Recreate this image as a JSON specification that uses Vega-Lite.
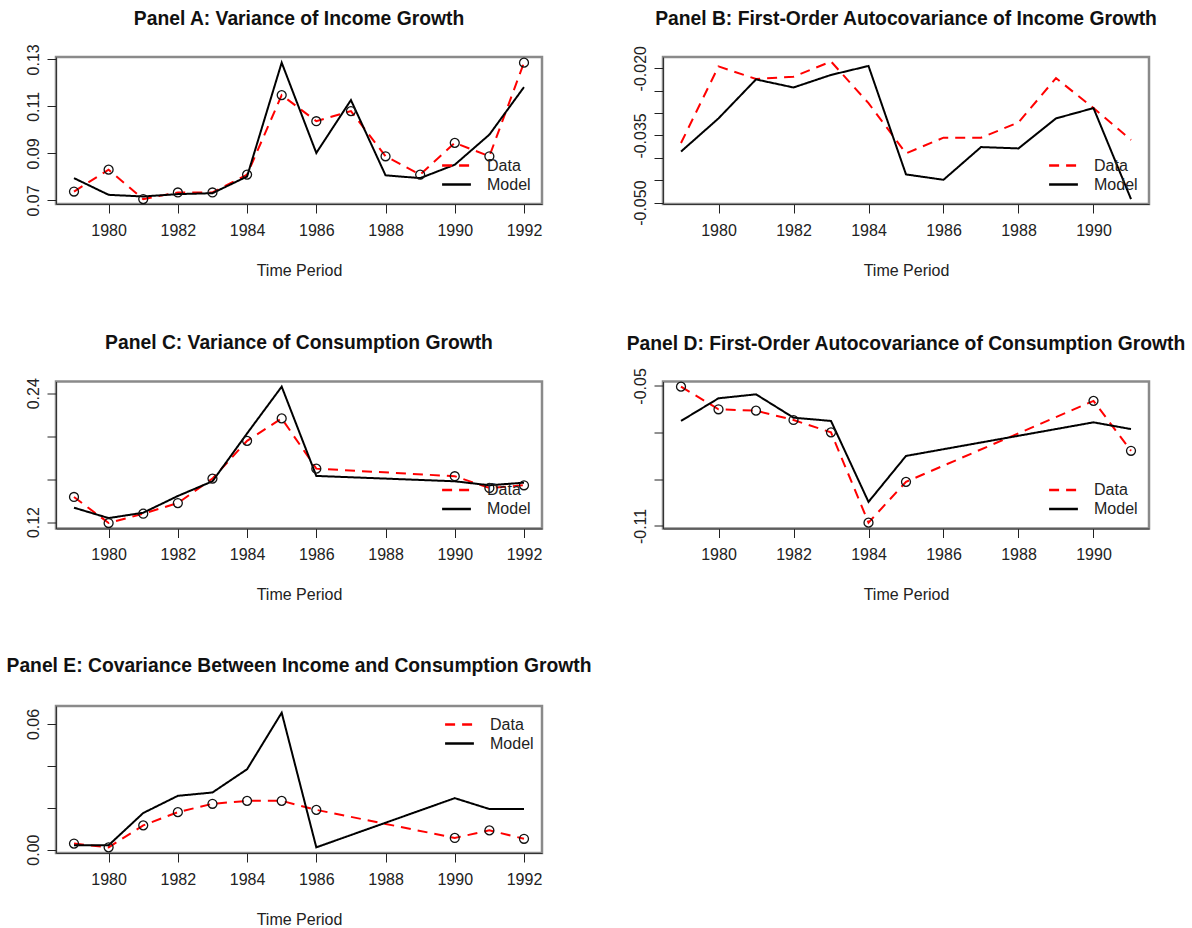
{
  "$schema": "https://vega.github.io/schema/vega-lite/v6.json",
  "background": "white",
  "padding": {"left": 5, "top": 8, "right": 0, "bottom": 0},
  "datasets": {
    "a": [
      {"year": 1979, "series": "Data", "value": 0.0738}, {"year": 1980, "series": "Data", "value": 0.0831},
      {"year": 1981, "series": "Data", "value": 0.0706}, {"year": 1982, "series": "Data", "value": 0.0734},
      {"year": 1983, "series": "Data", "value": 0.0734}, {"year": 1984, "series": "Data", "value": 0.081},
      {"year": 1985, "series": "Data", "value": 0.1148}, {"year": 1986, "series": "Data", "value": 0.1037},
      {"year": 1987, "series": "Data", "value": 0.108}, {"year": 1988, "series": "Data", "value": 0.0888},
      {"year": 1989, "series": "Data", "value": 0.081}, {"year": 1990, "series": "Data", "value": 0.0945},
      {"year": 1991, "series": "Data", "value": 0.0888}, {"year": 1992, "series": "Data", "value": 0.1286},
      {"year": 1979, "series": "Model", "value": 0.0795}, {"year": 1980, "series": "Model", "value": 0.0724},
      {"year": 1981, "series": "Model", "value": 0.0717}, {"year": 1982, "series": "Model", "value": 0.0727},
      {"year": 1983, "series": "Model", "value": 0.0731}, {"year": 1984, "series": "Model", "value": 0.0802},
      {"year": 1985, "series": "Model", "value": 0.1286}, {"year": 1986, "series": "Model", "value": 0.0902},
      {"year": 1987, "series": "Model", "value": 0.1127}, {"year": 1988, "series": "Model", "value": 0.0807},
      {"year": 1989, "series": "Model", "value": 0.0795}, {"year": 1990, "series": "Model", "value": 0.0852},
      {"year": 1991, "series": "Model", "value": 0.098}, {"year": 1992, "series": "Model", "value": 0.1182}
    ],
    "b": [
      {"year": 1979, "series": "Data", "value": -0.0367}, {"year": 1980, "series": "Data", "value": -0.0196},
      {"year": 1981, "series": "Data", "value": -0.0224}, {"year": 1982, "series": "Data", "value": -0.0219},
      {"year": 1983, "series": "Data", "value": -0.0185}, {"year": 1984, "series": "Data", "value": -0.0278},
      {"year": 1985, "series": "Data", "value": -0.039}, {"year": 1986, "series": "Data", "value": -0.0355},
      {"year": 1987, "series": "Data", "value": -0.0355}, {"year": 1988, "series": "Data", "value": -0.0321},
      {"year": 1989, "series": "Data", "value": -0.0222}, {"year": 1990, "series": "Data", "value": -0.0289},
      {"year": 1991, "series": "Data", "value": -0.036},
      {"year": 1979, "series": "Model", "value": -0.0386}, {"year": 1980, "series": "Model", "value": -0.0312},
      {"year": 1981, "series": "Model", "value": -0.0225}, {"year": 1982, "series": "Model", "value": -0.0243},
      {"year": 1983, "series": "Model", "value": -0.0215}, {"year": 1984, "series": "Model", "value": -0.0195},
      {"year": 1985, "series": "Model", "value": -0.0437}, {"year": 1986, "series": "Model", "value": -0.0449},
      {"year": 1987, "series": "Model", "value": -0.0376}, {"year": 1988, "series": "Model", "value": -0.0379},
      {"year": 1989, "series": "Model", "value": -0.0312}, {"year": 1990, "series": "Model", "value": -0.0289},
      {"year": 1991, "series": "Model", "value": -0.0492}
    ],
    "c": [
      {"year": 1979, "series": "Data", "value": 0.1434}, {"year": 1980, "series": "Data", "value": 0.1191},
      {"year": 1981, "series": "Data", "value": 0.1278}, {"year": 1982, "series": "Data", "value": 0.1377},
      {"year": 1983, "series": "Data", "value": 0.1605}, {"year": 1984, "series": "Data", "value": 0.1957},
      {"year": 1985, "series": "Data", "value": 0.2166}, {"year": 1986, "series": "Data", "value": 0.1698},
      {"year": 1990, "series": "Data", "value": 0.1627}, {"year": 1991, "series": "Data", "value": 0.1518},
      {"year": 1992, "series": "Data", "value": 0.1543},
      {"year": 1979, "series": "Model", "value": 0.1334}, {"year": 1980, "series": "Model", "value": 0.1237},
      {"year": 1981, "series": "Model", "value": 0.1287}, {"year": 1982, "series": "Model", "value": 0.1443},
      {"year": 1983, "series": "Model", "value": 0.158}, {"year": 1984, "series": "Model", "value": 0.2026},
      {"year": 1985, "series": "Model", "value": 0.2462}, {"year": 1986, "series": "Model", "value": 0.163},
      {"year": 1990, "series": "Model", "value": 0.158}, {"year": 1991, "series": "Model", "value": 0.1543},
      {"year": 1992, "series": "Model", "value": 0.1567}
    ],
    "d": [
      {"year": 1979, "series": "Data", "value": -0.0503}, {"year": 1980, "series": "Data", "value": -0.06},
      {"year": 1981, "series": "Data", "value": -0.0606}, {"year": 1982, "series": "Data", "value": -0.0646},
      {"year": 1983, "series": "Data", "value": -0.0699}, {"year": 1984, "series": "Data", "value": -0.1086},
      {"year": 1985, "series": "Data", "value": -0.0911}, {"year": 1990, "series": "Data", "value": -0.0564},
      {"year": 1991, "series": "Data", "value": -0.0778},
      {"year": 1979, "series": "Model", "value": -0.065}, {"year": 1980, "series": "Model", "value": -0.0553},
      {"year": 1981, "series": "Model", "value": -0.0536}, {"year": 1982, "series": "Model", "value": -0.0636},
      {"year": 1983, "series": "Model", "value": -0.065}, {"year": 1984, "series": "Model", "value": -0.0997},
      {"year": 1985, "series": "Model", "value": -0.08}, {"year": 1990, "series": "Model", "value": -0.0656},
      {"year": 1991, "series": "Model", "value": -0.0685}
    ],
    "e": [
      {"year": 1979, "series": "Data", "value": 0.0029}, {"year": 1980, "series": "Data", "value": 0.0011},
      {"year": 1981, "series": "Data", "value": 0.0116}, {"year": 1982, "series": "Data", "value": 0.0179},
      {"year": 1983, "series": "Data", "value": 0.0219}, {"year": 1984, "series": "Data", "value": 0.0233},
      {"year": 1985, "series": "Data", "value": 0.0233}, {"year": 1986, "series": "Data", "value": 0.019},
      {"year": 1990, "series": "Data", "value": 0.0056}, {"year": 1991, "series": "Data", "value": 0.0092},
      {"year": 1992, "series": "Data", "value": 0.0052},
      {"year": 1979, "series": "Model", "value": 0.0021}, {"year": 1980, "series": "Model", "value": 0.0021},
      {"year": 1981, "series": "Model", "value": 0.0175}, {"year": 1982, "series": "Model", "value": 0.0257},
      {"year": 1983, "series": "Model", "value": 0.0273}, {"year": 1984, "series": "Model", "value": 0.0384},
      {"year": 1985, "series": "Model", "value": 0.0654}, {"year": 1986, "series": "Model", "value": 0.0011},
      {"year": 1990, "series": "Model", "value": 0.0246}, {"year": 1991, "series": "Model", "value": 0.0194},
      {"year": 1992, "series": "Model", "value": 0.0194}
    ]
  },
  "columns": 2,
  "spacing": {"row": 177.5, "column": 121},
  "bounds": "flush",
  "resolve": {"scale": {"x": "independent", "y": "independent", "color": "independent", "strokeDash": "independent"}},
  "concat": [
    {
      "title": {"text": "Panel A: Variance of Income Growth", "dy": 14.5},
      "width": 486, "height": 147,
      "data": {"name": "a"},
      "layer": [
        {
          "mark": {"type": "line", "strokeWidth": 2, "strokeCap": "butt"},
          "encoding": {
            "x": {"field": "year", "type": "quantitative", "scale": {"domain": [1978.48, 1992.52], "nice": false, "zero": false}, "axis": {"values": [1980, 1982, 1984, 1986, 1988, 1990, 1992], "format": "d", "title": "Time Period"}},
            "y": {"field": "value", "type": "quantitative", "scale": {"domain": [0.0685, 0.131], "nice": false, "zero": false}, "axis": {"values": [0.07, 0.08, 0.09, 0.1, 0.11, 0.12, 0.13], "labelExpr": "round(datum.value*100) % 2 == 1 ? format(datum.value, '.2f') : ''"}},
            "color": {"field": "series", "type": "nominal", "scale": {"domain": ["Data", "Model"], "range": ["#ff0000", "#000000"]}, "legend": {"orient": "bottom-right"}},
            "strokeDash": {"field": "series", "type": "nominal", "scale": {"domain": ["Data", "Model"], "range": [[10, 7], [1, 0]]}, "legend": {"orient": "bottom-right"}}
          }
        },
        {
          "transform": [{"filter": "datum.series == 'Data'"}],
          "mark": {"type": "point", "shape": "circle", "filled": false, "stroke": "#111111", "strokeWidth": 1.3, "size": 80, "opacity": 1},
          "encoding": {"x": {"field": "year", "type": "quantitative"}, "y": {"field": "value", "type": "quantitative"}}
        }
      ]
    },
    {
      "title": {"text": "Panel B: First-Order Autocovariance of Income Growth", "dy": 12.5},
      "width": 486, "height": 147,
      "data": {"name": "b"},
      "layer": [
        {
          "mark": {"type": "line", "strokeWidth": 2, "strokeCap": "butt"},
          "encoding": {
            "x": {"field": "year", "type": "quantitative", "scale": {"domain": [1978.52, 1991.48], "nice": false, "zero": false}, "axis": {"values": [1980, 1982, 1984, 1986, 1988, 1990], "format": "d", "title": "Time Period"}},
            "y": {"field": "value", "type": "quantitative", "scale": {"domain": [-0.0503, -0.0175], "nice": false, "zero": false}, "axis": {"values": [-0.05, -0.045, -0.04, -0.035, -0.03, -0.025, -0.02], "labelExpr": "(round(-datum.value*1000) - 20) % 15 == 0 ? '-' + format(-datum.value, '.3f') : ''"}},
            "color": {"field": "series", "type": "nominal", "scale": {"domain": ["Data", "Model"], "range": ["#ff0000", "#000000"]}, "legend": {"orient": "bottom-right"}},
            "strokeDash": {"field": "series", "type": "nominal", "scale": {"domain": ["Data", "Model"], "range": [[10, 7], [1, 0]]}, "legend": {"orient": "bottom-right"}}
          }
        }
      ]
    },
    {
      "title": {"text": "Panel C: Variance of Consumption Growth", "dy": 5},
      "width": 486, "height": 147,
      "data": {"name": "c"},
      "layer": [
        {
          "mark": {"type": "line", "strokeWidth": 2, "strokeCap": "butt"},
          "encoding": {
            "x": {"field": "year", "type": "quantitative", "scale": {"domain": [1978.48, 1992.52], "nice": false, "zero": false}, "axis": {"values": [1980, 1982, 1984, 1986, 1988, 1990, 1992], "format": "d", "title": "Time Period"}},
            "y": {"field": "value", "type": "quantitative", "scale": {"domain": [0.114, 0.251], "nice": false, "zero": false}, "axis": {"values": [0.12, 0.14, 0.16, 0.18, 0.2, 0.22, 0.24], "labelExpr": "(round(datum.value*100) - 12) % 6 == 0 ? format(datum.value, '.2f') : ''"}},
            "color": {"field": "series", "type": "nominal", "scale": {"domain": ["Data", "Model"], "range": ["#ff0000", "#000000"]}, "legend": {"orient": "bottom-right"}},
            "strokeDash": {"field": "series", "type": "nominal", "scale": {"domain": ["Data", "Model"], "range": [[10, 7], [1, 0]]}, "legend": {"orient": "bottom-right"}}
          }
        },
        {
          "transform": [{"filter": "datum.series == 'Data'"}],
          "mark": {"type": "point", "shape": "circle", "filled": false, "stroke": "#111111", "strokeWidth": 1.3, "size": 80, "opacity": 1},
          "encoding": {"x": {"field": "year", "type": "quantitative"}, "y": {"field": "value", "type": "quantitative"}}
        }
      ]
    },
    {
      "title": {"text": "Panel D: First-Order Autocovariance of Consumption Growth", "dy": 15.5},
      "width": 486, "height": 147,
      "data": {"name": "d"},
      "layer": [
        {
          "mark": {"type": "line", "strokeWidth": 2, "strokeCap": "butt"},
          "encoding": {
            "x": {"field": "year", "type": "quantitative", "scale": {"domain": [1978.52, 1991.48], "nice": false, "zero": false}, "axis": {"values": [1980, 1982, 1984, 1986, 1988, 1990], "format": "d", "title": "Time Period"}},
            "y": {"field": "value", "type": "quantitative", "scale": {"domain": [-0.1111, -0.0481], "nice": false, "zero": false}, "axis": {"values": [-0.11, -0.1, -0.09, -0.08, -0.07, -0.06, -0.05], "labelExpr": "(round(-datum.value*100) - 5) % 3 == 0 ? '-' + format(-datum.value, '.2f') : ''"}},
            "color": {"field": "series", "type": "nominal", "scale": {"domain": ["Data", "Model"], "range": ["#ff0000", "#000000"]}, "legend": {"orient": "bottom-right"}},
            "strokeDash": {"field": "series", "type": "nominal", "scale": {"domain": ["Data", "Model"], "range": [[10, 7], [1, 0]]}, "legend": {"orient": "bottom-right"}}
          }
        },
        {
          "transform": [{"filter": "datum.series == 'Data'"}],
          "mark": {"type": "point", "shape": "circle", "filled": false, "stroke": "#111111", "strokeWidth": 1.3, "size": 80, "opacity": 1},
          "encoding": {"x": {"field": "year", "type": "quantitative"}, "y": {"field": "value", "type": "quantitative"}}
        }
      ]
    },
    {
      "title": {"text": "Panel E: Covariance Between Income and Consumption Growth", "dy": -1},
      "width": 486, "height": 147,
      "data": {"name": "e"},
      "layer": [
        {
          "mark": {"type": "line", "strokeWidth": 2, "strokeCap": "butt"},
          "encoding": {
            "x": {"field": "year", "type": "quantitative", "scale": {"domain": [1978.48, 1992.52], "nice": false, "zero": false}, "axis": {"values": [1980, 1982, 1984, 1986, 1988, 1990, 1992], "format": "d", "title": "Time Period"}},
            "y": {"field": "value", "type": "quantitative", "scale": {"domain": [-0.0016, 0.0686], "nice": false, "zero": false}, "axis": {"values": [0, 0.01, 0.02, 0.03, 0.04, 0.05, 0.06], "labelExpr": "round(datum.value*100) % 3 == 0 ? format(datum.value, '.2f') : ''"}},
            "color": {"field": "series", "type": "nominal", "scale": {"domain": ["Data", "Model"], "range": ["#ff0000", "#000000"]}, "legend": {"orient": "top-right", "offset": 8}},
            "strokeDash": {"field": "series", "type": "nominal", "scale": {"domain": ["Data", "Model"], "range": [[10, 7], [1, 0]]}, "legend": {"orient": "top-right", "offset": 8}}
          }
        },
        {
          "transform": [{"filter": "datum.series == 'Data'"}],
          "mark": {"type": "point", "shape": "circle", "filled": false, "stroke": "#111111", "strokeWidth": 1.3, "size": 80, "opacity": 1},
          "encoding": {"x": {"field": "year", "type": "quantitative"}, "y": {"field": "value", "type": "quantitative"}}
        }
      ]
    }
  ],
  "config": {
    "font": "Liberation Sans",
    "view": {"stroke": "#8a8a8a", "strokeWidth": 2.5},
    "title": {"font": "Liberation Sans", "fontSize": 19.3, "fontWeight": "bold", "color": "#111111", "anchor": "middle", "frame": "group", "offset": 29, "baseline": "alphabetic"},
    "axis": {"labelFont": "Liberation Sans", "labelFontSize": 16, "labelColor": "#222222", "tickColor": "#222222", "tickSize": 9, "tickWidth": 1, "domain": true, "domainColor": "#333333", "domainWidth": 1, "grid": false, "titleFont": "Liberation Sans", "titleFontSize": 16, "titleFontWeight": "normal", "titleColor": "#222222", "labelOverlap": false, "labelFlush": false},
    "axisX": {"labelPadding": 9, "titlePadding": 24},
    "axisY": {"labelAngle": -90, "labelAlign": "center", "labelBaseline": "bottom", "labelPadding": 6, "title": null},
    "legend": {"offset": 11, "padding": 0, "labelFont": "Liberation Sans", "labelFontSize": 16, "labelColor": "#222222", "symbolType": "M-1.6,0L1.6,0", "symbolSize": 324, "symbolStrokeWidth": 2.5, "labelOffset": 20, "rowPadding": 0, "title": null}
  }
}
